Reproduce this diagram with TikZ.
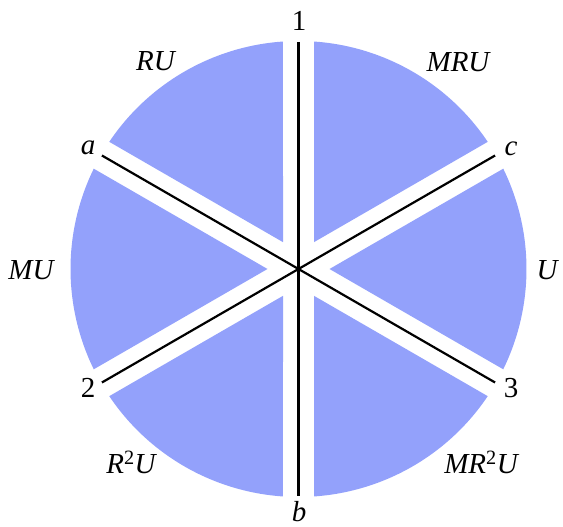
\documentclass[tikz,border=0pt]{standalone}
\usepackage{fontspec}
\setmainfont{Liberation Serif}
\usetikzlibrary{calc}
\definecolor{secblue}{RGB}{147,161,251}
\begin{document}
\begin{tikzpicture}[x=1pt,y=1pt,
  sector/.style={fill=secblue, draw=none},
  axisline/.style={draw=black, line width=2.2pt},
  lbl/.style={inner sep=0pt, font=\fontsize{29}{34}\selectfont},
  seclbl/.style={inner sep=0pt, font=\fontsize{29}{34}\selectfont\itshape}]
\useasboundingbox (0,0) rectangle (563,527);
\coordinate (C) at (298.5,258);
\def\R{228}
\def\Rl{227}
% sectors
\foreach \a in {-30,30,90,150,210,270}{
  \fill[sector] ($(C)+(\a+30:31)$) -- ($(C)+(\a+3.9:\R)$)
     arc[start angle=\a+3.9, end angle=\a+56.1, radius=\R] -- cycle;
}
% line end coordinates
\coordinate (e1) at ($(C)+(90:\Rl)$);
\coordinate (eb) at ($(C)+(270:\Rl)$);
\coordinate (ea) at ($(C)+(150:\Rl)$);
\coordinate (e3) at ($(C)+(-30:\Rl)$);
\coordinate (ec) at ($(C)+(30:\Rl)$);
\coordinate (e2) at ($(C)+(210:\Rl)$);
\draw[axisline] (e1) -- (eb);
\draw[axisline] (ea) -- (e3);
\draw[axisline] (ec) -- (e2);
% end labels
\node[lbl] (l1) at (299,506) {1};
\node[lbl] (lb) at (299,15) {\itshape b};
\node[lbl] (la) at (88,379) {\itshape a};
\node[lbl] (lc) at (511,378) {\itshape c};
\node[lbl] (l2) at (88,139) {2};
\node[lbl] (l3) at (511,139) {3};
% sector labels
\node[seclbl] (sRU) at (155.5,466) {RU};
\node[seclbl] (sMRU) at (458,465) {MRU};
\node[seclbl] (sMU) at (31,257) {MU};
\node[seclbl] (sU) at (547,257) {U};
\node[seclbl] (sRRU) at (131,65) {R\textsuperscript{\upshape 2}U};
\node[seclbl] (sMRRU) at (481,65) {MR\textsuperscript{\upshape 2}U};
\end{tikzpicture}
\end{document}
